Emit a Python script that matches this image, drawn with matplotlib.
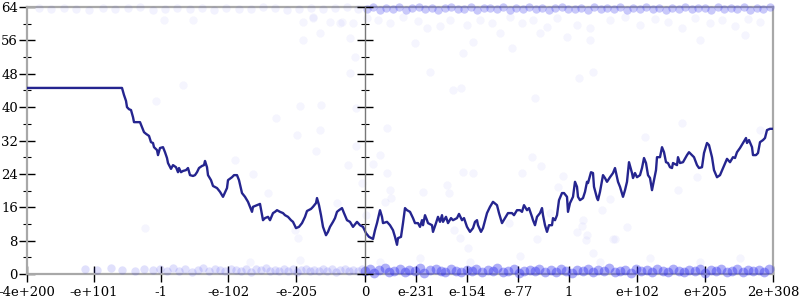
import matplotlib.pyplot as plt
from matplotlib.ticker import MultipleLocator

plt.rcParams['font.family'] = 'DejaVu Serif'
plt.rcParams['font.size'] = 9.5

# positions along the ordered float axis (0 .. 746) and their labels
tick_pos = [0, 67, 134, 201, 269, 338, 389, 440, 491, 542, 610, 678, 746]
tick_labels = ['-4e+200', '-e+101', '-1', '-e-102', '-e-205', '0',
               'e-231', 'e-154', 'e-77', '1', 'e+102', 'e+205', '2e+308']
zero_pos = 338

# running value (the dark line)
line_x = [0, 95, 97, 99, 100, 102, 104, 106, 107, 110,
          113, 115, 117, 119, 122, 124, 126, 127, 130, 131,
          133, 136, 138, 140, 141, 144, 146, 149, 151, 152,
          154, 156, 159, 161, 163, 166, 168, 170, 172, 175,
          177, 178, 180, 181, 184, 186, 190, 193, 196, 200,
          201, 205, 207, 210, 212, 215, 218, 221, 225, 226,
          230, 233, 236, 238, 241, 243, 246, 248, 250, 253,
          256, 258, 261, 264, 266, 269, 272, 275, 278, 280,
          284, 286, 289, 290, 292, 294, 296, 299, 301, 303,
          306, 308, 310, 312, 315, 317, 320, 323, 326, 330,
          333, 336, 339, 342, 346, 348, 350, 353, 355, 356,
          360, 363, 366, 368, 370, 371, 374, 376, 378, 380,
          383, 386, 388, 391, 393, 395, 396, 398, 400, 401,
          405, 406, 409, 411, 413, 415, 416, 419, 421, 424,
          426, 430, 432, 435, 437, 440, 443, 446, 448, 450,
          451, 454, 456, 460, 463, 466, 470, 472, 475, 478,
          481, 485, 487, 490, 493, 495, 497, 500, 502, 505,
          506, 508, 510, 513, 515, 516, 518, 520, 522, 525,
          526, 528, 530, 532, 535, 537, 540, 541, 543, 546,
          548, 550, 551, 553, 556, 558, 560, 561, 564, 566,
          567, 570, 571, 573, 576, 578, 580, 583, 586, 588,
          590, 591, 593, 596, 598, 600, 602, 605, 606, 608,
          610, 613, 615, 617, 619, 621, 623, 625, 626, 629,
          630, 633, 635, 637, 639, 641, 643, 645, 646, 650,
          651, 653, 656, 660, 662, 665, 667, 670, 672, 675,
          677, 680, 682, 685, 687, 690, 693, 696, 698, 700,
          703, 706, 708, 710, 713, 716, 719, 720, 722, 725,
          726, 729, 731, 733, 736, 738, 740, 743, 746]
line_y = [44.6, 44.6, 42.9, 41.5, 40.0, 39.5, 39.3, 37.6, 36.4, 36.4,
          36.4, 35.2, 34.0, 33.6, 33.1, 31.6, 31.4, 30.4, 29.7, 28.5,
          30.2, 30.4, 29.2, 27.8, 26.6, 25.2, 26.1, 25.6, 24.4, 25.4,
          24.4, 24.7, 24.9, 25.4, 23.7, 23.5, 23.7, 24.4, 25.4, 25.9,
          26.1, 27.1, 25.6, 23.7, 22.5, 21.1, 20.6, 19.7, 18.5, 20.6,
          22.5, 23.2, 23.7, 23.7, 22.5, 19.4, 18.5, 17.3, 14.9, 16.1,
          16.5, 16.8, 12.9, 13.4, 13.7, 12.9, 14.6, 14.9, 15.3, 14.9,
          14.6, 14.1, 13.7, 12.9, 12.5, 11.0, 11.3, 12.2, 13.7, 15.1,
          15.6, 16.1, 17.0, 18.2, 16.5, 14.1, 11.3, 9.3, 10.1, 11.3,
          12.5, 13.4, 14.9, 15.3, 15.8, 14.6, 12.9, 12.5, 11.3, 12.5,
          11.7, 11.3, 9.8, 8.9, 8.4, 10.5, 12.2, 15.3, 13.7, 12.2,
          12.5, 11.7, 10.5, 8.9, 7.0, 8.6, 8.9, 12.2, 15.8, 15.3,
          14.9, 13.4, 12.2, 12.2, 11.3, 12.9, 11.7, 14.1, 12.9, 12.2,
          11.7, 10.1, 12.2, 13.7, 12.5, 14.1, 12.5, 13.7, 12.2, 13.4,
          12.9, 13.4, 14.4, 12.9, 13.4, 11.3, 10.1, 11.0, 12.5, 12.9,
          11.7, 10.1, 11.0, 14.6, 16.1, 17.3, 16.5, 14.6, 12.2, 13.4,
          14.6, 14.6, 14.1, 15.3, 15.3, 14.9, 16.5, 15.3, 15.8, 13.7,
          12.9, 11.7, 13.7, 14.6, 15.8, 14.1, 11.7, 10.1, 11.7, 11.7,
          13.4, 12.9, 14.1, 17.7, 19.4, 19.4, 18.5, 14.9, 17.0, 18.5,
          22.1, 20.9, 18.5, 17.7, 18.2, 19.7, 22.1, 21.8, 24.4, 24.2,
          20.9, 18.2, 17.7, 19.7, 23.7, 23.0, 22.1, 23.2, 24.2, 25.4,
          23.2, 22.1, 20.9, 18.5, 20.1, 22.1, 26.8, 24.2, 23.0, 24.2,
          23.2, 23.7, 25.4, 27.8, 26.6, 23.7, 23.0, 20.1, 21.3, 24.9,
          28.0, 28.0, 30.4, 29.2, 26.8, 26.6, 25.6, 25.4, 26.6, 26.1,
          28.0, 26.6, 26.8, 28.5, 29.2, 28.5, 28.0, 26.1, 25.4, 25.6,
          29.0, 31.4, 30.9, 28.0, 24.9, 23.2, 23.7, 25.4, 26.6, 27.6,
          26.8, 28.0, 27.8, 29.2, 30.2, 31.4, 32.6, 31.4, 32.1, 30.4,
          28.5, 28.5, 29.0, 31.6, 32.1, 32.6, 34.5, 34.8, 34.8]

# samples piled up near 0, right of zero (dense)
bot_r_x = [338, 343, 347, 352, 358, 362, 367, 373, 378, 382,
           388, 393, 397, 403, 409, 414, 418, 424, 429, 434,
           440, 445, 449, 455, 461, 466, 470, 476, 481, 487,
           492, 497, 503, 508, 512, 518, 524, 529, 534, 539,
           545, 550, 556, 561, 566, 571, 577, 582, 588, 593,
           598, 604, 609, 614, 620, 625, 630, 636, 641, 646,
           652, 657, 662, 668, 673, 678, 684, 689, 694, 700,
           705, 710, 716, 721, 726, 732, 737, 742]
bot_r_y = [0.6, 1.1, 0.3, 0.9, 1.4, 0.5, 0.8, 1.2, 0.4, 1.0,
           0.7, 1.5, 0.3, 0.9, 1.1, 0.6, 0.4, 1.3, 0.8, 0.5,
           1.0, 0.7, 1.2, 0.4, 0.9, 0.6, 1.4, 0.5, 0.8, 1.1,
           0.3, 0.7, 1.0, 0.6, 1.3, 0.4, 0.9, 0.5, 1.2, 0.8,
           0.3, 1.0, 0.6, 1.1, 0.4, 0.9, 0.7, 1.4, 0.5, 0.8,
           1.0, 0.3, 1.2, 0.6, 0.9, 0.4, 1.1, 0.7, 0.5, 1.3,
           0.8, 0.4, 1.0, 0.6, 1.2, 0.3, 0.9, 0.7, 1.1, 0.5,
           0.8, 1.3, 0.4, 1.0, 0.6, 0.9, 0.5, 1.2]

# samples near 0, left of zero (thinner)
bot_l_x = [58, 70, 84, 95, 108, 117, 126, 133, 140, 146,
           152, 158, 165, 171, 176, 182, 188, 193, 198, 204,
           209, 214, 219, 224, 229, 234, 239, 243, 248, 252,
           257, 261, 266, 270, 274, 279, 283, 287, 292, 296,
           300, 305, 309, 313, 318, 322, 326, 331, 335]
bot_l_y = [1.2, 0.9, 1.4, 1.0, 0.7, 1.3, 0.9, 1.1, 0.6, 1.5,
           0.8, 1.2, 0.5, 1.0, 1.4, 0.7, 1.1, 0.9, 0.6, 1.3,
           1.0, 0.8, 1.2, 0.5, 1.1, 0.9, 1.4, 0.7, 1.0, 0.6,
           1.2, 0.8, 1.1, 0.5, 0.9, 1.3, 0.7, 1.0, 0.6, 1.2,
           0.8, 1.1, 0.5, 0.9, 1.3, 0.7, 1.0, 0.6, 1.2]

# samples piled up near 64
top_r_x = [340, 346, 353, 359, 366, 372, 379, 385, 392, 398,
           405, 411, 418, 424, 431, 437, 444, 450, 457, 463,
           470, 476, 483, 489, 496, 502, 509, 515, 522, 528,
           535, 541, 548, 554, 561, 567, 574, 580, 587, 593,
           600, 606, 613, 619, 626, 632, 639, 645, 652, 658,
           665, 671, 678, 684, 691, 697, 704, 710, 717, 723,
           730, 736, 743]
top_r_y = [63.6, 63.9, 63.4, 63.8, 63.5, 63.9, 63.3, 63.7, 63.9, 63.5,
           63.8, 63.4, 63.7, 63.9, 63.5, 63.6, 63.9, 63.3, 63.7, 63.8,
           63.5, 63.9, 63.4, 63.7, 63.6, 63.9, 63.5, 63.8, 63.3, 63.7,
           63.9, 63.5, 63.6, 63.8, 63.4, 63.9, 63.6, 63.7, 63.5, 63.9,
           63.4, 63.8, 63.6, 63.9, 63.5, 63.7, 63.3, 63.8, 63.6, 63.9,
           63.5, 63.7, 63.8, 63.4, 63.9, 63.6, 63.7, 63.5, 63.9, 63.4,
           63.8, 63.6, 63.9]
top_l_x = [12, 24, 37, 49, 62, 76, 88, 101, 113, 126,
           138, 150, 163, 175, 187, 199, 212, 224, 236, 248,
           260, 272, 284, 296, 308, 320, 331]
top_l_y = [63.7, 63.5, 63.8, 63.6, 63.4, 63.8, 63.5, 63.7, 63.9, 63.4,
           63.6, 63.8, 63.5, 63.7, 63.4, 63.8, 63.6, 63.5, 63.9, 63.7,
           63.4, 63.6, 63.8, 63.5, 63.7, 63.9, 63.6]

# stray samples
stray_x = [156, 129, 273, 294, 249, 293, 270, 289, 208, 329,
           329, 321, 226, 241, 360, 353, 346, 360, 363, 364,
           358, 310, 339, 118, 271, 268, 335, 396, 422, 420,
           436, 446, 433, 441, 427, 505, 514, 495, 536, 531,
           583, 575, 556, 555, 550, 560, 559, 510, 588, 600,
           482, 523, 655, 618, 670, 651, 733, 566, 586, 286,
           315, 328, 323, 403, 436, 426, 434, 485, 552, 566,
           563, 388, 276, 508,
           276, 286, 303, 313, 326, 340, 351, 363, 376, 391,
           400, 413, 423, 440, 453, 465, 473, 483, 495, 506,
           520, 530, 540, 550, 563, 293, 323, 446, 513, 583,
           598, 613, 628, 641, 655, 668, 683, 695, 708, 721,
           733, 673, 718, 137, 166,
           353, 393, 443, 493, 573, 623, 673, 713, 223, 273]
stray_y = [45.3, 41.5, 40.3, 40.5, 37.4, 34.5, 33.3, 29.5, 27.3, 39.8,
           30.7, 26.1, 24.0, 19.4, 35.0, 28.5, 26.4, 24.2, 20.1, 18.2,
           17.3, 17.0, 14.1, 11.0, 8.6, 10.5, 21.8, 19.7, 19.4, 21.3,
           24.4, 24.2, 8.6, 6.2, 10.5, 28.0, 25.9, 24.2, 23.5, 20.9,
           18.0, 15.3, 12.9, 11.5, 10.1, 9.3, 8.1, 8.4, 8.4, 11.3,
           12.2, 14.6, 36.2, 32.8, 23.2, 20.1, 34.5, 5.0, 8.4, 61.6,
           60.4, 52.0, 48.2, 48.4, 53.0, 44.1, 44.6, 54.2, 47.0, 48.4,
           56.1, 55.4, 56.1, 42.2,
           60.4, 61.4, 60.4, 60.2, 60.2, 61.4, 60.9, 60.2, 61.6, 60.6,
           59.0, 59.4, 60.9, 59.7, 60.9, 60.2, 57.8, 61.6, 60.2, 60.9,
           59.2, 61.4, 56.8, 59.7, 59.0, 57.8, 56.6, 55.6, 57.8, 60.9,
           61.6, 59.7, 61.1, 60.4, 59.0, 61.4, 60.2, 60.9, 59.4, 61.1,
           60.4, 56.1, 57.3, 60.9, 60.9,
           2.9, 3.8, 2.9, 4.3, 2.9, 3.8, 2.9, 3.8, 2.9, 3.4]

dot_color = '#2a2aee'
line_color = '#25258f'
spine_color = '#a8a8a8'

fig = plt.figure(figsize=(8, 3), dpi=100)
ax = fig.add_axes([27 / 800, 26 / 300, 746 / 800, 267 / 300])

ax.plot(stray_x, stray_y, 'o', ms=6, mew=0, color=dot_color, alpha=0.045, zorder=2)
ax.plot(bot_l_x, bot_l_y, 'o', ms=6, mew=0, color=dot_color, alpha=0.14,
        clip_on=False, zorder=3)
ax.plot(top_l_x, top_l_y, 'o', ms=6, mew=0, color=dot_color, alpha=0.06,
        clip_on=False, zorder=3)
ax.plot(bot_r_x, bot_r_y, 'o', ms=7, mew=0, color=dot_color, alpha=0.38,
        clip_on=False, zorder=3)
ax.plot(top_r_x, top_r_y, 'o', ms=6, mew=0, color=dot_color, alpha=0.25,
        clip_on=False, zorder=3)
ax.plot(line_x, line_y, color=line_color, lw=1.7, zorder=4)

ax.set_xlim(0, 746)
ax.set_ylim(0, 64)
ax.set_xticks(tick_pos)
ax.set_xticklabels(tick_labels)
ax.yaxis.set_major_locator(MultipleLocator(8))
ax.yaxis.set_minor_locator(MultipleLocator(4))

for side in ['left', 'right', 'top', 'bottom']:
    ax.spines[side].set_color(spine_color)
    ax.spines[side].set_linewidth(1.6)

ax.tick_params(axis='y', which='major', direction='inout', length=11, width=1,
               left=True, right=True, pad=1)
ax.tick_params(axis='y', which='minor', direction='inout', length=6, width=0.8,
               left=True, right=True)
ax.tick_params(axis='x', which='major', direction='inout', length=11, width=1,
               bottom=True, top=False, pad=3)

# axis through x = 0
ax2 = ax.twinx()
ax2.set_ylim(0, 64)
ax2.spines['right'].set_position(('data', zero_pos))
ax2.spines['right'].set_color('#777777')
ax2.spines['right'].set_linewidth(1)
for side in ['left', 'top', 'bottom']:
    ax2.spines[side].set_visible(False)
ax2.yaxis.set_major_locator(MultipleLocator(8))
ax2.yaxis.set_minor_locator(MultipleLocator(4))
ax2.tick_params(axis='y', which='major', direction='inout', length=11, width=1,
                labelright=False)
ax2.tick_params(axis='y', which='minor', direction='inout', length=6, width=0.8)

fig.savefig('out.png', dpi=100)
